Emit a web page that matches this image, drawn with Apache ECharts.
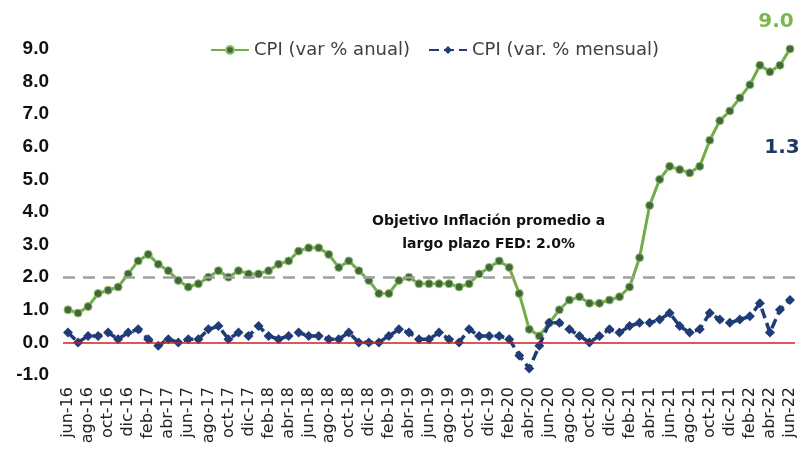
<!DOCTYPE html>
<html>
<head>
<meta charset="utf-8">
<title>CPI EE.UU.</title>
<script src="https://cdn.jsdelivr.net/npm/echarts@6/dist/echarts.min.js"></script>
<style>
html, body {
	margin: 0;
	padding: 0;
	background: #fff;
}
#chart {
	width: 809px;
	height: 464px;
}
</style>
</head>
<body>
<div id="chart"></div>
<script type="text/javascript">
    // meses jun-16 .. jun-22
    var meses = [
        'jun-16', 'jul-16', 'ago-16', 'sep-16', 'oct-16', 'nov-16', 'dic-16',
        'ene-17', 'feb-17', 'mar-17', 'abr-17', 'may-17', 'jun-17', 'jul-17', 'ago-17', 'sep-17', 'oct-17', 'nov-17', 'dic-17',
        'ene-18', 'feb-18', 'mar-18', 'abr-18', 'may-18', 'jun-18', 'jul-18', 'ago-18', 'sep-18', 'oct-18', 'nov-18', 'dic-18',
        'ene-19', 'feb-19', 'mar-19', 'abr-19', 'may-19', 'jun-19', 'jul-19', 'ago-19', 'sep-19', 'oct-19', 'nov-19', 'dic-19',
        'ene-20', 'feb-20', 'mar-20', 'abr-20', 'may-20', 'jun-20', 'jul-20', 'ago-20', 'sep-20', 'oct-20', 'nov-20', 'dic-20',
        'ene-21', 'feb-21', 'mar-21', 'abr-21', 'may-21', 'jun-21', 'jul-21', 'ago-21', 'sep-21', 'oct-21', 'nov-21', 'dic-21',
        'ene-22', 'feb-22', 'mar-22', 'abr-22', 'may-22', 'jun-22'
    ];

    // CPI var % anual
    var cpiAnual = [
        1.0, 0.9, 1.1, 1.5, 1.6, 1.7, 2.1,
        2.5, 2.7, 2.4, 2.2, 1.9, 1.7, 1.8, 2.0, 2.2, 2.0, 2.2, 2.1,
        2.1, 2.2, 2.4, 2.5, 2.8, 2.9, 2.9, 2.7, 2.3, 2.5, 2.2, 1.9,
        1.5, 1.5, 1.9, 2.0, 1.8, 1.8, 1.8, 1.8, 1.7, 1.8, 2.1, 2.3,
        2.5, 2.3, 1.5, 0.4, 0.2, 0.6, 1.0, 1.3, 1.4, 1.2, 1.2, 1.3,
        1.4, 1.7, 2.6, 4.2, 5.0, 5.4, 5.3, 5.2, 5.4, 6.2, 6.8, 7.1,
        7.5, 7.9, 8.5, 8.3, 8.5, 9.0
    ];

    // CPI var % mensual
    var cpiMensual = [
        0.3, 0.0, 0.2, 0.2, 0.3, 0.1, 0.3,
        0.4, 0.1, -0.1, 0.1, 0.0, 0.1, 0.1, 0.4, 0.5, 0.1, 0.3, 0.2,
        0.5, 0.2, 0.1, 0.2, 0.3, 0.2, 0.2, 0.1, 0.1, 0.3, 0.0, 0.0,
        0.0, 0.2, 0.4, 0.3, 0.1, 0.1, 0.3, 0.1, 0.0, 0.4, 0.2, 0.2,
        0.2, 0.1, -0.4, -0.8, -0.1, 0.6, 0.6, 0.4, 0.2, 0.0, 0.2, 0.4,
        0.3, 0.5, 0.6, 0.6, 0.7, 0.9, 0.5, 0.3, 0.4, 0.9, 0.7, 0.6,
        0.7, 0.8, 1.2, 0.3, 1.0, 1.3
    ];

    var objetivoFed = 2.0;

    var chart = echarts.init(document.getElementById('chart'));

    // etiqueta solo en el ultimo dato
    function ultimoConEtiqueta(arr, label) {
        return arr.map(function (v, i) {
            if (i === arr.length - 1) {
                return {value: v, label: label};
            }
            return v;
        });
    }

    var option = {
        backgroundColor: '#ffffff',
        animation: false,
        textStyle: {fontFamily: 'DejaVu Sans'},
        legend: {
            top: 36,
            left: 205,
            itemWidth: 38,
            itemHeight: 10,
            itemGap: 18,
            textStyle: {fontSize: 18, color: '#404040', fontFamily: 'DejaVu Sans'},
            data: ['CPI (var % anual)', 'CPI (var. % mensual)']
        },
        grid: {
            left: 63,
            right: 14,
            top: 49,
            bottom: 89,
            outerBoundsMode: 'none'
        },
        xAxis: {
            type: 'category',
            data: meses,
            boundaryGap: true,
            axisLine: {show: false},
            axisTick: {show: false},
            axisLabel: {
                interval: 1,
                rotate: 90,
                margin: 12,
                fontSize: 16,
                color: '#222',
                fontFamily: 'DejaVu Sans'
            }
        },
        yAxis: {
            type: 'value',
            min: -1,
            max: 9,
            interval: 1,
            splitLine: {show: false},
            axisLine: {show: false},
            axisTick: {show: false},
            axisLabel: {
                margin: 14,
                fontSize: 19,
                fontWeight: 'bold',
                color: '#111',
                fontFamily: 'Liberation Sans',
                formatter: function (v) { return v.toFixed(1); }
            }
        },
        graphic: [{
            type: 'text',
            left: 372,
            top: 210,
            style: {
                text: 'Objetivo Inflación promedio a\nlargo plazo FED: 2.0%',
                textAlign: 'center',
                x: 125,
                fontSize: 14,
                lineHeight: 23,
                fontWeight: 'bold',
                fill: '#111',
                fontFamily: 'DejaVu Sans'
            }
        }],
        series: [{
            name: 'CPI (var % anual)',
            type: 'line',
            data: ultimoConEtiqueta(cpiAnual, {
                show: true,
                position: 'top',
                offset: [-14, -8],
                fontSize: 20,
                fontWeight: 'bold',
                color: '#7AB648',
                fontFamily: 'DejaVu Sans',
                formatter: function (p) { return p.value.toFixed(1); }
            }),
            symbol: 'circle',
            symbolSize: 8,
            showAllSymbol: true,
            lineStyle: {color: '#70AD47', width: 3},
            itemStyle: {color: '#45653A', borderColor: '#8CC56B', borderWidth: 1},
            z: 3,
            markLine: {
                silent: true,
                symbol: 'none',
                label: {show: false},
                data: [
                    {yAxis: 0, lineStyle: {color: '#D02020', width: 1.5, type: 'solid'}},
                    {yAxis: objetivoFed, lineStyle: {color: '#A0A0A0', width: 2.5, type: [12, 8]}}
                ]
            }
        }, {
            name: 'CPI (var. % mensual)',
            type: 'line',
            data: ultimoConEtiqueta(cpiMensual, {
                show: true,
                position: 'top',
                offset: [-8, -132],
                fontSize: 20,
                fontWeight: 'bold',
                color: '#1F3864',
                fontFamily: 'DejaVu Sans',
                formatter: function (p) { return p.value.toFixed(1); }
            }),
            symbol: 'diamond',
            symbolSize: 10,
            showAllSymbol: true,
            lineStyle: {color: '#1F3C78', width: 3.5, type: [10, 5]},
            itemStyle: {color: '#1F3C78'},
            z: 4
        }]
    };

    chart.setOption(option);
</script>
</body>
</html>
